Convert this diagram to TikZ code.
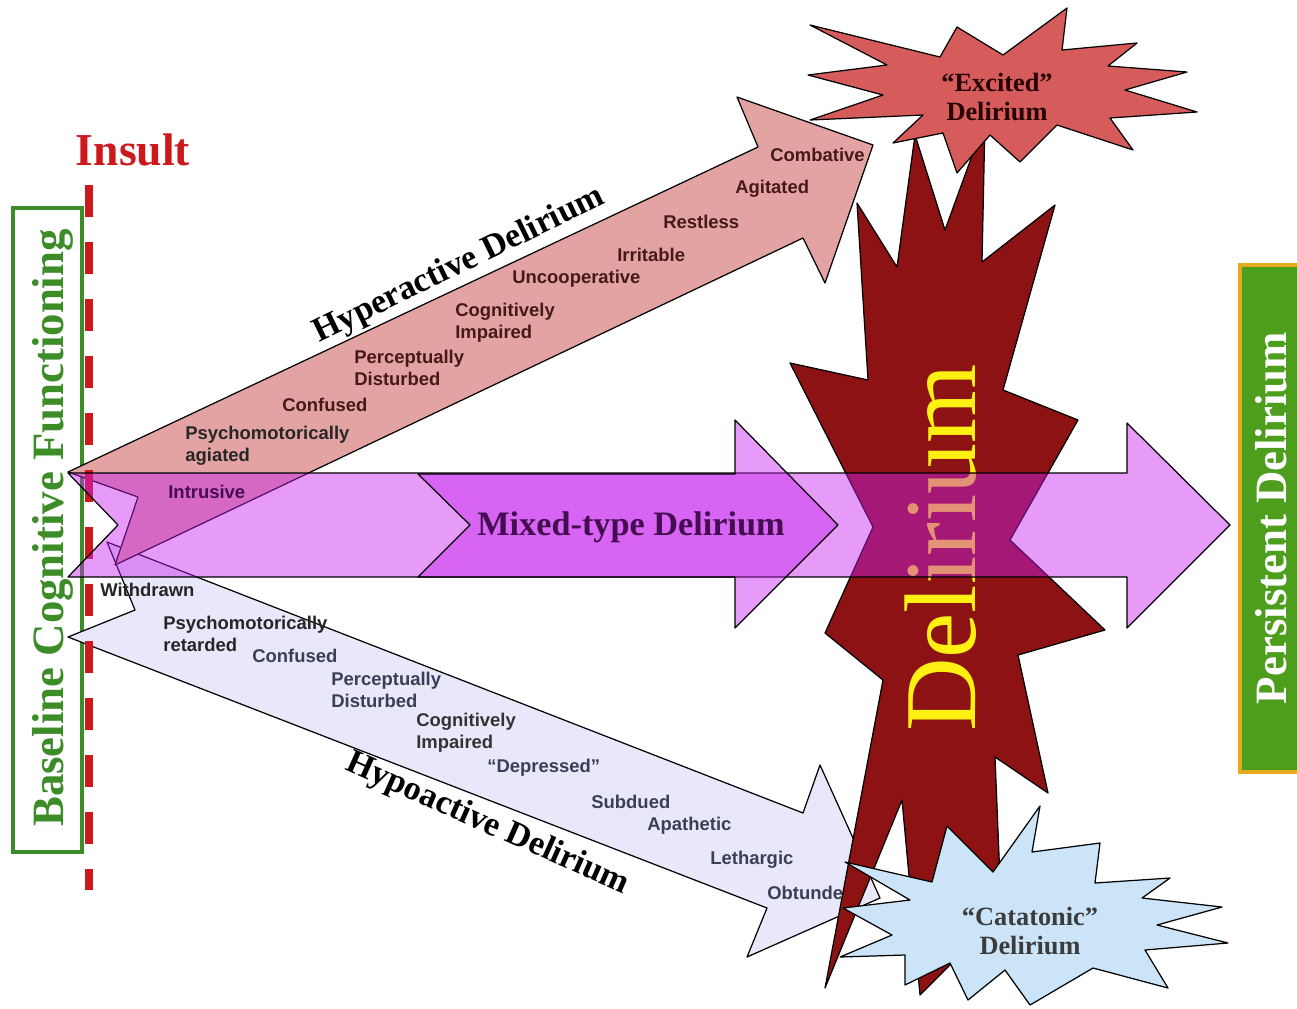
\documentclass[tikz,border=0pt]{standalone}
\usepackage{fontspec}
\setmainfont{Liberation Serif}
\setsansfont{Liberation Sans}
\definecolor{hyperfill}{RGB}{227,163,163}
\definecolor{hypofill}{RGB}{232,232,250}
\definecolor{mixfill}{RGB}{197,33,237}
\definecolor{delred}{RGB}{140,18,20}
\definecolor{excfill}{RGB}{214,92,92}
\definecolor{catfill}{RGB}{204,228,248}
\definecolor{basegreen}{RGB}{60,140,40}
\definecolor{persgreen}{RGB}{78,158,30}
\definecolor{persgold}{RGB}{230,170,30}
\definecolor{insultred}{RGB}{205,25,30}
\definecolor{delyellow}{RGB}{255,240,20}
\definecolor{hyperlab}{RGB}{70,25,25}
\definecolor{hypolab}{RGB}{60,62,85}
\definecolor{mixlab}{RGB}{70,12,82}
\definecolor{catlab}{RGB}{60,60,60}
\tikzset{
   blk/.style={draw=black,line width=0.7pt,line join=round},
   hyparrow/.style={blk,fill=hyperfill},
   hypoarrow/.style={blk,fill=hypofill},
   mixarrow/.style={blk,fill=mixfill,fill opacity=0.45},
   burst/.style={blk,fill=delred},
   excburst/.style={blk,fill=excfill},
   catburst/.style={blk,fill=catfill},
   basebox/.style={draw=basegreen,line width=1.8pt,fill=white},
   persbox/.style={draw=persgold,line width=2.2pt,fill=persgreen},
   cutline/.style={draw=insultred,line width=4.5pt,dash pattern=on 0.64cm off 0.5cm},
   lab/.style={font=\sffamily\bfseries\fontsize{10.5}{12.5}\selectfont,anchor=west,align=left,inner sep=0pt},
   title/.style={font=\bfseries\fontsize{19.5}{22}\selectfont,inner sep=0pt},
   sidetxt/.style={font=\bfseries\fontsize{25.5}{28}\selectfont,rotate=90,anchor=base,inner sep=0pt},
   bursttxt/.style={font=\bfseries\fontsize{15}{17}\selectfont,align=center,inner sep=0pt},
}
\begin{document}
\begin{tikzpicture}[x=0.02cm,y=-0.02cm]
      \useasboundingbox (0,0) rectangle (1297,1008);
      \draw[basebox] (13,208) rectangle (82,852);
      \node[sidetxt,text=basegreen] (base) at (63,528) {Baseline Cognitive Functioning};
      \node[font=\bfseries\fontsize{26}{28}\selectfont,text=insultred,anchor=base,inner sep=0pt] (insult) at (133,165) {Insult};
      \draw[hypoarrow] (107,542) -- (803,813) -- (820,765) -- (880,898) -- (747,957)
            -- (767,908) -- (68,637) -- (135,610) -- cycle;
      \draw[burst] (790,363) -- (868,380) -- (857,203) -- (897,267) -- (915,135) -- (945,230)
            -- (985,120) -- (982,262) -- (1055,205) -- (1003,390) -- (1078,420) -- (1010,540)
            -- (1105,630) -- (1018,655) -- (1048,793) -- (995,757) -- (1000,880) -- (975,940)
            -- (920,995) -- (902,800) -- (825,988) -- (883,680) -- (825,633) -- (873,527) -- cycle;
      \node[font=\fontsize{58}{60}\selectfont,text=delyellow,rotate=90,anchor=base,inner sep=0pt] (delir) at (975,548) {Delirium};
      \draw[excburst] (810,25) -- (940,57) -- (957,27) -- (1003,55) -- (1067,8) -- (1062,50)
            -- (1137,43) -- (1108,66) -- (1187,72) -- (1125,90) -- (1197,112) -- (1110,118)
            -- (1133,150) -- (1057,125) -- (1020,162) -- (990,135) -- (957,173) -- (943,133)
            -- (893,143) -- (923,115) -- (810,120) -- (883,95) -- (808,75) -- (887,65) -- cycle;
      \node[bursttxt,text=black!85!red] (excited) at (997,97) {“Excited”\\Delirium};
      \draw[hyparrow] (68,472) -- (758,147) -- (737,97) -- (873,145) -- (825,283)
            -- (803,238) -- (115,565) -- (138,497) -- cycle;
      \draw[catburst] (947,826) -- (993,872) -- (1040,806) -- (1032,852) -- (1100,843) -- (1095,883)
            -- (1170,878) -- (1142,898) -- (1222,907) -- (1157,925) -- (1228,943) -- (1145,950)
            -- (1168,988) -- (1093,968) -- (1030,1005) -- (1005,970) -- (968,1000) -- (950,963)
            -- (905,985) -- (905,955) -- (840,957) -- (892,935) -- (843,908) -- (910,900)
            -- (845,862) -- (932,882) -- cycle;
      \node[bursttxt,text=catlab] (catatonic) at (1030,931) {“Catatonic”\\Delirium};
      \coordinate (cuttop) at (89,185);
      \coordinate (cutbot) at (89,890);
      \draw[cutline] (cuttop) -- (cutbot);
      \draw[mixarrow] (68,473) -- (1127,473) -- (1127,423) -- (1230,525) -- (1127,628)
            -- (1127,577) -- (68,577) -- (118,525) -- cycle;
      \draw[mixarrow] (418,474) -- (735,474) -- (735,420) -- (838,525) -- (735,628)
            -- (735,577) -- (418,577) -- (470,525) -- cycle;
      \node[title,text=mixlab] (mixed) at (631,527) {Mixed-type Delirium};
      \node[title,rotate=26,anchor=base] (hyper) at (463,273) {Hyperactive Delirium};
      \node[title,rotate=-24,anchor=base] (hypo) at (484,832) {Hypoactive Delirium};
      % hyperactive signs
      \node[lab,text=hyperlab] (combative) at (770,155) {Combative};
      \node[lab,text=hyperlab] (agitated) at (735,189) {Agitated};
      \node[lab,text=hyperlab] (restless) at (663,222) {Restless};
      \node[lab,text=hyperlab] (irritable) at (617,255) {Irritable};
      \node[lab,text=hyperlab] (uncoop) at (512,279) {Uncooperative};
      \node[lab,text=hyperlab] (cogup) at (455,323) {Cognitively\\Impaired};
      \node[lab,text=hyperlab] (percup) at (354,368) {Perceptually\\Disturbed};
      \node[lab,text=hyperlab] (confup) at (282,405) {Confused};
      \node[lab,text=black!85] (psyup) at (185,446) {Psychomotorically\\agiated};
      \node[lab,text=mixlab] (intrusive) at (168,492) {Intrusive};
      % hypoactive signs
      \node[lab,text=black!85] (withdrawn) at (100,590) {Withdrawn};
      \node[lab,text=black!85] (psydown) at (163,634) {Psychomotorically\\retarded};
      \node[lab,text=hypolab] (confdown) at (252,656) {Confused};
      \node[lab,text=hypolab] (percdown) at (331,690) {Perceptually\\Disturbed};
      \node[lab,text=black!80] (cogdown) at (416,733) {Cognitively\\Impaired};
      \node[lab,text=hypolab] (depressed) at (487,768) {“Depressed”};
      \node[lab,text=hypolab] (subdued) at (591,802) {Subdued};
      \node[lab,text=hypolab] (apathetic) at (647,826) {Apathetic};
      \node[lab,text=hypolab] (lethargic) at (710,860) {Lethargic};
      \node[lab,text=hypolab] (obtunded) at (767,893) {Obtunde};
      \draw[persbox] (1240,265) rectangle (1310,772);
      \node[sidetxt,text=white] (persist) at (1286,518) {Persistent Delirium};
\end{tikzpicture}
\end{document}
